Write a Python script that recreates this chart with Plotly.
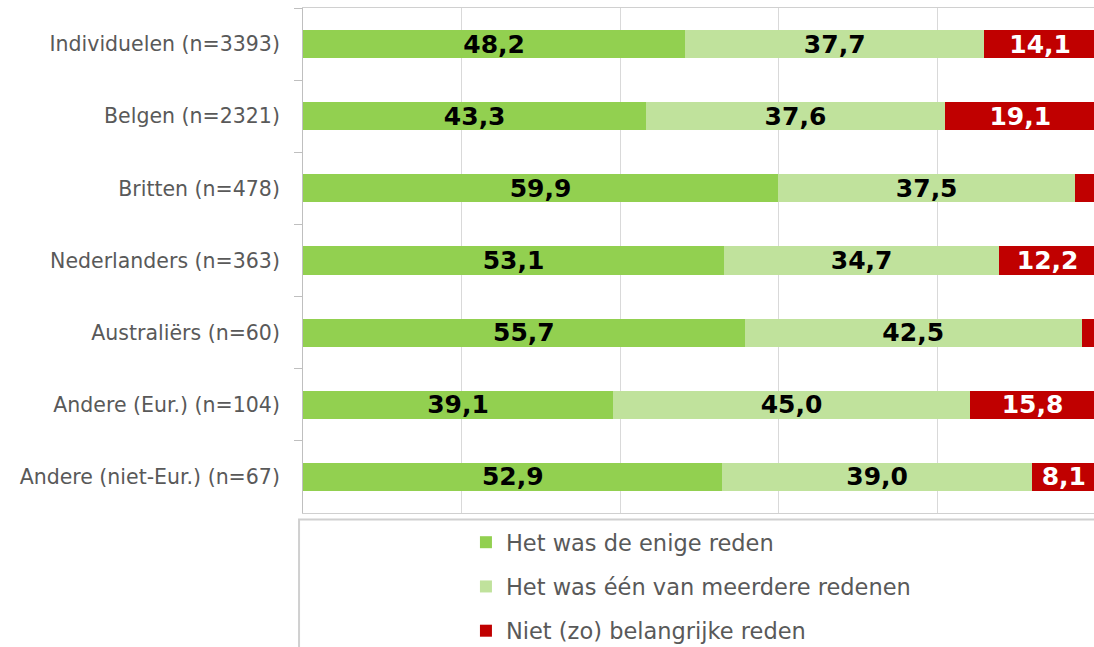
import plotly.graph_objects as go

categories = ["Individuelen (n=3393)", "Belgen (n=2321)", "Britten (n=478)",
              "Nederlanders (n=363)", "Australiërs (n=60)", "Andere (Eur.) (n=104)",
              "Andere (niet-Eur.) (n=67)"]
enige = [48.2, 43.3, 59.9, 53.1, 55.7, 39.1, 52.9]
meerdere = [37.7, 37.6, 37.5, 34.7, 42.5, 45.0, 39.0]
niet = [14.1, 19.1, 2.6, 12.2, 1.8, 15.8, 8.1]
series_names = ["Het was de enige reden", "Het was één van meerdere redenen",
                "Niet (zo) belangrijke reden"]

colors = ["#92D050", "#C0E29C", "#C00000"]
text_colors = ["#000000", "#000000", "#FFFFFF"]


def labels(vals):
    return [f"{v:.1f}".replace(".", ",") if v >= 5 else "" for v in vals]


fig = go.Figure()
for i, (name, vals) in enumerate(zip(series_names, [enige, meerdere, niet])):
    fig.add_trace(go.Bar(
        y=categories, x=vals, orientation="h", name=name,
        marker=dict(color=colors[i], line=dict(width=0)),
        text=labels(vals), textposition="inside", insidetextanchor="middle",
        textangle=0, constraintext="none",
        textfont=dict(family="DejaVu Sans", size=25, color=text_colors[i], weight="bold"),
        legendgroup=f"g{i}",
        hoverinfo="skip",
    ))

fig.update_layout(
    barmode="stack",
    bargap=0.61,
    width=1094, height=647,
    margin=dict(l=303, r=0, t=8, b=134, autoexpand=False),
    paper_bgcolor="white", plot_bgcolor="white",
    showlegend=True,
    legend=dict(
        orientation="v", x=0.206, xanchor="left", y=-0.016, yanchor="top",
        font=dict(family="DejaVu Sans", size=22.5, color="#595959"),
        tracegroupgap=12, bgcolor="rgba(0,0,0,0)", borderwidth=0,
    ),
    xaxis=dict(
        range=[0, 99.75], showticklabels=False, ticks="",
        showgrid=True, gridcolor="#D9D9D9", gridwidth=1, dtick=20,
        showline=True, linecolor="#D0D0D0", linewidth=1, mirror=True,
        zeroline=False, fixedrange=True,
    ),
    yaxis=dict(
        autorange="reversed", type="category",
        showline=True, linecolor="#BFBFBF", linewidth=1,
        ticks="outside", tickson="boundaries", ticklen=8, tickcolor="#BFBFBF",
        tickfont=dict(family="DejaVu Sans", size=20.5, color="#595959"),
        ticklabelstandoff=18, showgrid=False, fixedrange=True,
    ),
    shapes=[dict(type="rect", xref="paper", yref="paper",
                 x0=-0.005, x1=1.05, y0=-0.013, y1=-0.4,
                 line=dict(color="#D0D0D0", width=2), fillcolor="rgba(0,0,0,0)", layer="below")],
)

fig.write_html("out.html", config={"displayModeBar": False},
               post_script="document.body.style.margin='0px';")
